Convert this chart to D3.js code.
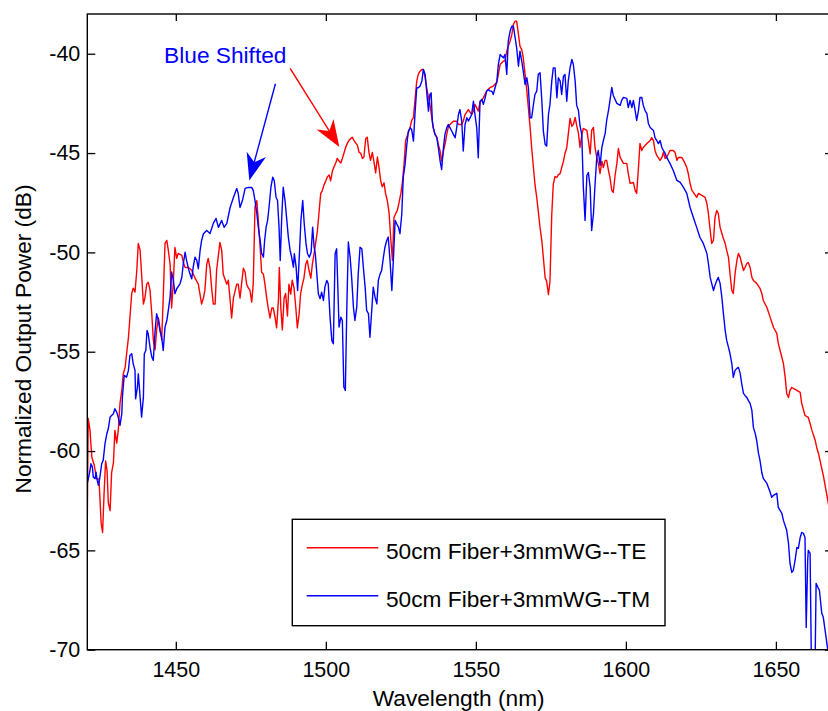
<!DOCTYPE html>
<html>
<head>
<meta charset="utf-8">
<script src="https://cdn.jsdelivr.net/npm/d3@7"></script>
<style>
  body { margin: 0; background: #fff; }
  svg { display: block; font-family: "Liberation Sans", Arial, sans-serif; }
</style>
</head>
<body>
<div id="chart"></div>
<script>
// wavelength (nm), normalized output power (dB)
const teSpectrum = [
  [1420.5,-63.5],[1420.8,-58.36],[1421.4,-58.96],[1422.0,-60.3],[1422.8,-60.7],[1423.6,-61.4],[1424.4,-61.4],
  [1425.1,-63.6],[1425.6,-64.1],[1426.1,-62.1],[1426.6,-60.5],[1427.1,-61.0],[1427.5,-62.6],[1428.1,-63.0],
  [1428.6,-61.1],[1429.2,-60.6],[1429.7,-58.96],[1430.3,-59.6],[1430.8,-59.0],[1431.4,-57.6],[1432.0,-56.95],
  [1432.5,-56.1],[1433.1,-55.8],[1433.6,-55.1],[1434.2,-54.3],[1434.7,-53.3],[1435.3,-52.07],[1435.8,-51.8],
  [1436.4,-52.0],[1437.0,-50.9],[1437.5,-49.55],[1438.1,-49.9],[1438.6,-51.1],[1439.2,-52.6],[1439.7,-52.3],
  [1440.3,-51.6],[1440.8,-51.5],[1441.4,-51.9],[1442.0,-53.1],[1442.5,-54.4],[1443.1,-54.9],[1443.6,-53.9],
  [1444.2,-53.3],[1444.7,-53.8],[1445.3,-54.4],[1445.8,-52.3],[1446.4,-49.55],[1447.0,-49.4],[1447.5,-49.9],
  [1448.1,-50.6],[1448.6,-52.8],[1449.2,-51.4],[1449.7,-49.75],[1450.3,-50.3],[1450.8,-50.05],[1452.0,-50.15],
  [1452.5,-50.5],[1453.1,-50.76],[1454.2,-50.76],[1455.3,-50.9],[1456.4,-51.3],[1457.5,-51.6],[1458.6,-52.6],
  [1459.2,-52.3],[1459.7,-51.9],[1460.3,-50.6],[1460.8,-50.3],[1461.4,-50.8],[1462.0,-51.9],[1462.5,-52.6],
  [1463.1,-52.6],[1463.6,-50.9],[1464.7,-49.5],[1465.3,-49.9],[1465.8,-51.1],[1467.0,-51.6],[1467.5,-51.4],
  [1468.1,-52.4],[1468.6,-53.3],[1469.2,-52.3],[1470.3,-51.6],[1470.8,-51.6],[1471.4,-52.3],[1472.5,-50.8],
  [1473.1,-51.0],[1473.6,-51.6],[1474.2,-51.8],[1474.7,-51.9],[1475.3,-52.5],[1475.8,-51.6],[1476.4,-47.7],
  [1477.0,-47.4],[1477.5,-48.4],[1478.1,-49.75],[1478.6,-51.0],[1479.2,-51.1],[1479.7,-51.6],[1480.3,-52.3],
  [1480.8,-52.8],[1481.4,-53.3],[1482.0,-52.8],[1482.5,-52.8],[1483.1,-53.3],[1483.6,-53.8],[1484.2,-52.4],
  [1484.5,-50.76],[1485.0,-52.8],[1485.5,-53.9],[1486.1,-52.3],[1486.6,-52.07],[1487.2,-53.2],[1487.7,-51.6],
  [1488.3,-52.1],[1488.8,-51.4],[1489.4,-51.8],[1490.0,-52.8],[1490.5,-53.8],[1491.1,-53.1],[1491.6,-52.07],
  [1492.2,-51.6],[1492.7,-51.3],[1493.3,-50.6],[1493.8,-50.4],[1494.4,-50.9],[1495.0,-51.3],[1495.5,-50.6],
  [1496.1,-50.05],[1496.6,-49.55],[1497.2,-48.9],[1497.7,-48.04],[1498.3,-47.03],[1498.8,-46.9],[1499.4,-46.6],
  [1500.0,-46.4],[1500.5,-46.2],[1501.1,-46.1],[1501.6,-46.4],[1502.2,-45.9],[1502.7,-45.7],[1503.3,-45.5],
  [1503.8,-45.27],[1504.4,-45.4],[1505.0,-45.5],[1505.5,-45.27],[1506.1,-44.97],[1506.6,-44.72],[1507.2,-44.5],
  [1507.7,-44.37],[1508.3,-44.27],[1508.8,-44.2],[1509.4,-44.37],[1510.0,-44.5],[1510.5,-44.6],[1511.1,-44.97],
  [1511.6,-45.0],[1512.2,-45.27],[1512.7,-45.2],[1513.3,-44.27],[1513.8,-44.2],[1514.4,-45.0],[1514.9,-45.37],
  [1515.5,-44.97],[1516.1,-45.5],[1516.6,-46.0],[1517.2,-45.2],[1517.7,-45.7],[1518.3,-46.4],[1518.8,-46.7],
  [1519.4,-46.5],[1519.9,-47.03],[1520.5,-47.4],[1521.1,-48.04],[1521.6,-49.25],[1522.2,-50.4],[1522.7,-48.24],
  [1523.3,-48.04],[1523.8,-47.9],[1524.4,-47.5],[1525.0,-47.03],[1525.5,-46.5],[1526.1,-45.5],[1526.6,-44.37],
  [1528.1,-43.71],[1528.6,-43.36],[1529.2,-43.21],[1529.7,-42.35],[1530.3,-41.38],[1530.8,-41.04],[1531.4,-40.88],
  [1532.0,-40.79],[1532.5,-40.79],[1533.1,-41.2],[1533.6,-41.7],[1534.2,-42.2],[1534.7,-42.55],[1535.3,-43.21],
  [1535.8,-43.71],[1536.4,-44.06],[1537.0,-44.2],[1537.5,-44.57],[1538.1,-44.9],[1538.6,-45.41],[1539.2,-44.9],
  [1539.7,-44.57],[1540.3,-44.06],[1540.8,-43.71],[1541.4,-43.56],[1542.5,-43.4],[1543.6,-43.4],[1544.2,-43.56],
  [1545.3,-43.56],[1545.8,-43.4],[1546.4,-43.06],[1547.5,-42.81],[1548.6,-43.06],[1549.2,-42.89],[1549.7,-42.55],
  [1550.8,-42.89],[1551.4,-42.45],[1552.5,-42.22],[1553.6,-41.88],[1554.7,-41.71],[1555.8,-41.63],[1557.0,-41.45],
  [1557.5,-41.04],[1558.1,-40.54],[1559.2,-40.37],[1559.7,-40.37],[1560.3,-39.87],[1560.8,-39.62],[1561.4,-39.37],
  [1562.0,-39.03],[1562.5,-38.53],[1563.1,-38.36],[1563.6,-38.36],[1564.2,-39.03],[1564.7,-39.62],[1565.3,-39.79],
  [1565.8,-40.2],[1566.4,-41.04],[1567.0,-41.88],[1567.5,-42.72],[1568.1,-43.73],[1568.6,-44.73],[1569.2,-45.74],
  [1569.7,-46.58],[1570.3,-47.25],[1570.8,-47.92],[1571.4,-48.76],[1572.0,-49.43],[1572.5,-50.27],[1573.1,-51.28],
  [1573.6,-51.46],[1574.2,-52.12],[1574.7,-51.46],[1575.3,-48.09],[1575.8,-46.58],[1576.4,-46.18],[1577.0,-46.23],
  [1577.5,-46.08],[1578.1,-46.03],[1578.6,-45.73],[1579.2,-45.41],[1579.7,-45.02],[1580.3,-44.73],[1580.8,-44.06],
  [1581.4,-43.26],[1582.0,-43.66],[1582.5,-43.56],[1583.1,-43.21],[1583.6,-43.61],[1584.2,-44.01],[1584.7,-44.72],
  [1585.3,-44.11],[1585.8,-43.76],[1587.0,-43.86],[1587.5,-44.37],[1588.1,-45.04],[1588.6,-43.86],[1589.2,-43.71],
  [1589.7,-44.72],[1590.3,-45.22],[1590.8,-45.52],[1591.4,-46.03],[1592.0,-45.41],[1592.5,-45.73],[1593.1,-45.37],
  [1593.6,-45.37],[1594.2,-45.88],[1594.7,-46.23],[1595.3,-46.88],[1595.8,-46.98],[1596.4,-46.13],[1597.0,-45.52],
  [1597.5,-44.77],[1598.1,-45.22],[1599.2,-45.52],[1600.3,-45.52],[1600.8,-46.03],[1601.4,-46.53],[1602.5,-46.48],
  [1603.1,-46.88],[1603.6,-47.03],[1604.2,-45.73],[1604.7,-44.52],[1605.3,-44.87],[1605.8,-44.72],[1607.0,-44.52],
  [1608.1,-44.37],[1608.6,-44.22],[1609.2,-44.37],[1609.7,-44.87],[1610.3,-45.12],[1611.4,-45.37],[1612.0,-45.22],
  [1612.5,-44.97],[1613.1,-45.27],[1613.6,-45.22],[1614.7,-44.87],[1615.8,-44.87],[1616.4,-44.97],[1617.0,-45.37],
  [1617.5,-45.22],[1618.6,-45.22],[1619.2,-45.37],[1619.7,-45.52],[1620.3,-45.73],[1620.8,-46.03],[1621.4,-46.53],
  [1622.0,-46.88],[1622.5,-46.98],[1623.6,-47.23],[1624.2,-47.03],[1625.3,-47.13],[1626.4,-47.23],[1627.0,-47.54],
  [1627.5,-48.04],[1628.1,-48.9],[1628.6,-49.55],[1629.2,-49.4],[1629.7,-48.24],[1630.3,-47.89],[1630.8,-48.04],
  [1631.4,-48.74],[1632.0,-49.05],[1632.5,-49.3],[1633.1,-49.55],[1633.6,-49.9],[1634.2,-50.25],[1634.7,-51.06],
  [1635.3,-51.92],[1635.8,-52.07],[1636.4,-51.06],[1637.0,-50.41],[1637.5,-50.05],[1638.1,-50.25],[1638.6,-50.56],
  [1639.2,-50.91],[1639.7,-50.76],[1640.3,-50.56],[1640.8,-50.51],[1641.4,-50.76],[1642.0,-51.26],[1642.5,-51.41],
  [1643.6,-51.56],[1644.7,-51.81],[1645.3,-52.07],[1645.8,-52.42],[1647.0,-52.77],[1648.1,-53.27],[1649.2,-53.78],
  [1650.3,-54.08],[1650.8,-54.58],[1651.4,-54.94],[1652.0,-55.29],[1652.5,-55.59],[1653.1,-56.29],[1653.6,-57.1],
  [1654.2,-57.3],[1654.7,-56.95],[1655.3,-56.8],[1655.8,-56.85],[1657.0,-56.95],[1658.1,-57.05],[1658.6,-57.6],
  [1659.7,-58.21],[1660.8,-58.31],[1661.4,-58.61],[1662.0,-58.96],[1663.1,-59.46],[1663.6,-59.82],[1664.2,-60.12],
  [1664.7,-60.47],[1665.8,-61.23],[1667.0,-62.23],[1667.6,-62.74],[1668.1,-63.0]
]

const tmSpectrum = [
  [1420.6,-61.56],[1421.4,-60.98],[1421.7,-60.64],[1422.2,-60.81],[1422.5,-61.31],[1423.1,-61.39],[1423.4,-61.06],
  [1423.8,-61.48],[1424.2,-61.73],[1424.7,-61.31],[1425.3,-60.64],[1425.8,-60.47],[1426.4,-59.63],[1427.0,-59.13],
  [1427.5,-58.88],[1428.1,-58.29],[1428.6,-58.21],[1429.2,-58.12],[1429.7,-57.87],[1430.3,-58.04],[1430.8,-58.29],
  [1431.4,-58.71],[1432.0,-58.12],[1432.2,-57.29],[1432.8,-56.19],[1433.6,-56.28],[1434.2,-55.94],[1434.7,-55.19],
  [1435.3,-55.1],[1435.8,-55.61],[1436.4,-55.94],[1436.6,-57.37],[1437.2,-56.78],[1437.5,-56.11],[1438.1,-57.29],
  [1438.6,-58.29],[1439.2,-57.29],[1439.5,-55.1],[1440.0,-54.94],[1440.4,-53.93],[1440.8,-54.1],[1441.4,-54.77],
  [1442.0,-55.27],[1442.5,-55.44],[1443.1,-53.93],[1443.6,-53.09],[1444.2,-53.43],[1444.7,-53.93],[1445.3,-54.27],
  [1445.8,-54.94],[1446.4,-53.76],[1447.0,-53.43],[1447.5,-52.92],[1448.1,-52.25],[1448.6,-50.99],[1449.2,-51.41],
  [1449.7,-52.08],[1450.3,-51.83],[1451.4,-51.58],[1452.0,-51.25],[1452.5,-50.57],[1453.1,-49.99],[1453.6,-50.41],
  [1454.2,-50.82],[1454.7,-51.08],[1455.3,-51.33],[1455.8,-50.74],[1456.4,-50.24],[1457.0,-50.41],[1457.5,-50.82],
  [1458.1,-49.9],[1458.6,-49.4],[1459.2,-49.06],[1460.3,-48.9],[1461.4,-49.05],[1462.5,-48.54],[1463.4,-48.29],
  [1464.2,-48.74],[1465.3,-48.39],[1466.1,-48.74],[1467.0,-48.54],[1468.1,-47.74],[1469.2,-47.24],[1470.3,-46.78],
  [1470.8,-47.03],[1471.4,-47.74],[1472.2,-47.39],[1473.1,-46.78],[1474.2,-46.73],[1475.3,-46.73],[1475.8,-46.88],
  [1476.4,-47.39],[1477.0,-48.04],[1477.5,-48.74],[1478.1,-49.4],[1478.6,-50.05],[1479.2,-50.24],[1479.6,-49.4],
  [1480.1,-48.73],[1480.6,-48.39],[1481.2,-47.54],[1481.7,-46.72],[1482.3,-46.21],[1482.8,-46.38],[1483.4,-47.22],
  [1483.9,-47.39],[1484.4,-48.73],[1484.8,-50.41],[1485.3,-48.23],[1485.8,-46.72],[1486.4,-47.39],[1487.0,-48.39],
  [1487.5,-49.23],[1488.1,-49.9],[1488.6,-50.24],[1489.2,-50.74],[1489.5,-50.07],[1490.1,-50.74],[1490.6,-51.92],
  [1491.2,-50.07],[1491.7,-48.39],[1492.3,-47.39],[1492.8,-48.56],[1493.4,-49.57],[1493.9,-50.07],[1494.5,-50.24],
  [1495.1,-49.99],[1495.6,-48.73],[1496.1,-49.74],[1496.5,-50.07],[1497.0,-51.08],[1497.5,-52.08],[1498.1,-52.33],
  [1498.6,-52.0],[1499.2,-52.42],[1499.7,-51.75],[1500.3,-51.41],[1500.8,-51.58],[1501.4,-53.26],[1502.0,-54.43],
  [1502.5,-54.6],[1503.1,-50.07],[1503.6,-49.82],[1504.0,-51.75],[1504.4,-53.76],[1505.0,-53.26],[1505.5,-53.43],
  [1506.0,-56.78],[1506.5,-56.95],[1507.0,-52.76],[1507.5,-49.48],[1508.1,-50.24],[1508.6,-51.25],[1509.2,-52.76],
  [1509.7,-53.43],[1510.3,-52.76],[1510.8,-51.08],[1511.4,-49.74],[1512.0,-49.82],[1512.5,-50.74],[1513.1,-51.75],
  [1513.6,-52.92],[1514.2,-53.09],[1514.7,-54.27],[1515.3,-52.92],[1515.8,-51.75],[1516.4,-52.25],[1517.0,-52.59],
  [1517.5,-51.41],[1518.1,-51.08],[1518.6,-50.91],[1519.2,-50.24],[1519.7,-49.74],[1520.3,-49.4],[1520.8,-49.23],
  [1521.4,-50.41],[1522.0,-51.92],[1522.5,-50.41],[1523.1,-48.39],[1523.6,-48.56],[1524.2,-48.73],[1524.7,-49.06],
  [1525.3,-48.09],[1525.8,-46.24],[1526.4,-45.57],[1527.0,-44.57],[1527.5,-43.9],[1528.1,-43.73],[1528.6,-43.81],
  [1529.2,-44.4],[1529.7,-43.06],[1530.3,-41.71],[1530.8,-41.71],[1531.4,-41.63],[1532.0,-41.38],[1532.5,-40.79],
  [1533.1,-41.04],[1533.6,-41.88],[1534.2,-42.89],[1534.7,-42.05],[1535.1,-41.97],[1535.5,-43.39],[1535.8,-43.73],
  [1536.4,-44.06],[1537.0,-44.23],[1537.5,-44.73],[1538.1,-45.41],[1538.6,-45.83],[1539.2,-44.73],[1539.7,-44.06],
  [1540.3,-43.73],[1540.8,-43.56],[1541.4,-43.73],[1542.0,-43.9],[1542.5,-44.06],[1543.1,-44.23],[1543.6,-43.73],
  [1544.2,-43.06],[1544.7,-42.81],[1545.3,-43.39],[1545.8,-44.9],[1546.4,-43.56],[1547.0,-43.22],[1547.5,-43.39],
  [1548.1,-43.22],[1548.6,-43.06],[1549.2,-42.39],[1549.7,-43.06],[1550.3,-43.73],[1550.8,-45.24],[1551.4,-42.39],
  [1552.0,-42.3],[1552.5,-42.55],[1553.1,-42.22],[1553.6,-41.88],[1554.2,-41.8],[1554.7,-41.88],[1555.3,-41.88],
  [1555.8,-42.05],[1556.4,-41.71],[1557.0,-41.38],[1557.5,-40.54],[1558.1,-40.04],[1558.6,-40.12],[1559.2,-40.2],
  [1559.7,-40.04],[1560.3,-41.04],[1560.8,-39.37],[1561.4,-38.87],[1562.0,-38.61],[1562.5,-38.61],[1563.1,-39.2],
  [1563.6,-39.7],[1564.2,-40.63],[1564.7,-39.87],[1565.3,-40.37],[1565.8,-40.88],[1566.4,-41.55],[1567.0,-41.21],
  [1567.5,-41.71],[1568.1,-43.22],[1568.6,-43.22],[1569.2,-42.55],[1569.7,-42.05],[1570.3,-41.88],[1570.8,-41.04],
  [1571.4,-40.96],[1572.0,-42.39],[1572.5,-43.9],[1573.1,-44.57],[1573.6,-44.65],[1574.2,-43.06],[1574.7,-42.55],
  [1575.3,-41.38],[1575.8,-40.71],[1576.4,-40.71],[1577.0,-42.22],[1577.5,-41.21],[1578.1,-41.38],[1578.6,-42.05],
  [1579.2,-41.13],[1579.7,-41.04],[1580.3,-42.39],[1580.8,-41.38],[1581.4,-40.71],[1582.0,-40.29],[1582.5,-40.54],
  [1583.1,-41.38],[1583.6,-42.6],[1584.2,-42.86],[1584.7,-43.61],[1585.3,-44.06],[1585.8,-46.63],[1586.4,-48.39],
  [1587.0,-46.13],[1587.5,-45.98],[1588.1,-46.73],[1588.6,-48.9],[1589.2,-48.04],[1589.7,-46.63],[1590.3,-45.22],
  [1590.8,-44.87],[1591.4,-45.62],[1592.0,-44.72],[1592.5,-44.37],[1593.1,-44.01],[1593.6,-43.36],[1594.2,-42.86],
  [1594.7,-42.35],[1595.3,-41.7],[1595.8,-42.1],[1597.0,-42.5],[1598.1,-42.6],[1598.6,-42.35],[1599.2,-42.2],
  [1600.3,-42.25],[1600.8,-42.71],[1601.4,-42.35],[1602.0,-42.71],[1602.5,-42.35],[1603.1,-42.86],[1603.6,-43.36],
  [1604.2,-42.86],[1604.7,-42.2],[1605.3,-42.2],[1605.8,-42.6],[1606.4,-42.86],[1607.0,-43.01],[1607.5,-43.51],
  [1608.1,-43.71],[1609.2,-43.86],[1609.7,-44.22],[1610.3,-44.37],[1610.8,-44.52],[1611.4,-44.37],[1612.0,-44.72],
  [1612.5,-44.87],[1613.1,-45.02],[1613.6,-45.22],[1614.7,-45.52],[1615.8,-45.88],[1617.0,-46.38],[1618.1,-46.48],
  [1619.2,-46.73],[1620.3,-47.03],[1621.4,-47.74],[1622.5,-48.24],[1623.6,-48.74],[1624.7,-49.25],[1625.8,-49.55],
  [1627.0,-50.05],[1627.5,-50.56],[1628.1,-51.26],[1628.6,-51.56],[1629.2,-51.92],[1629.7,-51.66],[1630.3,-51.41],
  [1630.8,-51.26],[1631.4,-51.56],[1632.0,-52.27],[1632.5,-53.07],[1633.1,-53.93],[1633.6,-54.43],[1634.2,-54.78],
  [1634.7,-55.09],[1635.3,-55.59],[1635.8,-56.29],[1636.4,-55.94],[1637.0,-55.84],[1637.5,-55.79],[1638.1,-56.09],
  [1638.6,-56.6],[1639.2,-57.1],[1639.7,-57.2],[1640.3,-57.3],[1640.8,-57.45],[1641.4,-57.6],[1642.0,-57.96],
  [1642.5,-58.81],[1643.1,-59.11],[1643.6,-59.47],[1644.2,-60.12],[1644.7,-60.47],[1645.3,-61.08],[1645.8,-61.38],
  [1647.0,-61.63],[1648.1,-62.08],[1648.6,-62.33],[1649.2,-62.23],[1650.3,-62.13],[1650.8,-62.84],[1652.0,-63.14],
  [1652.5,-63.49],[1653.6,-63.99],[1654.2,-64.65],[1654.7,-65.66],[1655.3,-66.11],[1655.8,-66.01],[1656.4,-65.5],
  [1657.0,-64.85],[1657.5,-64.9],[1658.1,-64.35],[1658.6,-64.1],[1659.2,-64.15],[1659.7,-64.35],[1660.1,-68.88],
  [1660.6,-65.5],[1660.8,-65.0],[1661.4,-65.15],[1661.8,-70.3],[1663.1,-70.3],[1663.4,-66.66],[1664.0,-66.86],
  [1664.5,-67.01],[1665.3,-68.17],[1665.8,-68.37],[1666.4,-69.03],[1667.0,-69.68],[1667.4,-70.13]
]

const seriesNames = ["50cm Fiber+3mmWG--TE", "50cm Fiber+3mmWG--TM"]
const seriesColors = ["#ff0000", "#0000ff"]
const xTicks = [1450, 1500, 1550, 1600, 1650]
const yTicks = [-70, -65, -60, -55, -50, -45, -40]
const xDomain = [1420.5, 1668.7]
const yDomain = [-70, -38]

// annotation: label anchor, and arrows [from, to] in data units
const annotLabel = { text: "Blue Shifted", wl: 1446.1, db: -40.49 }
const annotArrows = [
  { from: [1483.2, -41.51], to: [1474.5, -46.38], color: "#0000ff" },
  { from: [1488.1, -40.74], to: [1504.5, -44.7], color: "#ff0000" },
]

const w = 828
const h = 711
const plotL = 87.3, plotR = 832, plotT = 14, plotB = 649.7

const svg = d3.select("#chart").append("svg")
	.attr("width", w)
	.attr("height", h)

svg.append("rect").attr("width", w).attr("height", h).attr("fill", "#fff")

const x = d3.scaleLinear().domain(xDomain).range([plotL, plotR])
const y = d3.scaleLinear().domain(yDomain).range([plotB, plotT])

svg.append("clipPath").attr("id", "plotClip")
	.append("rect")
	.attr("x", plotL).attr("y", plotT)
	.attr("width", plotR - plotL).attr("height", plotB - plotT)

const line = d3.line().x(d => x(d[0])).y(d => y(d[1]))

const plot = svg.append("g").attr("clip-path", "url(#plotClip)")

plot.append("path")
	.datum(teSpectrum)
	.attr("d", line)
	.attr("fill", "none")
	.attr("stroke", seriesColors[0])
	.attr("stroke-width", 1.4)
	.attr("stroke-linejoin", "round")

plot.append("path")
	.datum(tmSpectrum)
	.attr("d", line)
	.attr("fill", "none")
	.attr("stroke", seriesColors[1])
	.attr("stroke-width", 1.4)
	.attr("stroke-linejoin", "round")

// axes, ticks pointing inward; plain hyphen minus like the original
const tickFont = 21.5
const labelFont = 22.7
const plainNum = d => String(d)

const xAxis = svg.append("g")
	.attr("transform", `translate(0,${plotB})`)
	.call(d3.axisBottom(x).tickValues(xTicks).tickSizeInner(-8).tickSizeOuter(0).tickPadding(12).tickFormat(plainNum))
const yAxis = svg.append("g")
	.attr("transform", `translate(${plotL},0)`)
	.call(d3.axisLeft(y).tickValues(yTicks).tickSizeInner(-8).tickSizeOuter(0).tickPadding(7).tickFormat(plainNum))
const xTop = svg.append("g")
	.attr("transform", `translate(0,${plotT})`)
	.call(d3.axisTop(x).tickValues(xTicks).tickSizeInner(-7).tickSizeOuter(0).tickFormat(""))
const yRight = svg.append("g")
	.attr("transform", `translate(${plotR},0)`)
	.call(d3.axisRight(y).tickValues(yTicks).tickSizeInner(-7).tickSizeOuter(0).tickFormat(""))

;[xAxis, yAxis, xTop, yRight].forEach(g => {
	g.select(".domain").remove()
	g.selectAll(".tick line").attr("stroke", "#000").attr("stroke-width", 1.3)
	g.selectAll(".tick text")
		.attr("fill", "#000")
		.style("font-size", tickFont + "px")
		.style("font-family", '"Liberation Sans", Arial, sans-serif')
})

svg.append("rect")
	.attr("x", plotL).attr("y", plotT)
	.attr("width", plotR - plotL).attr("height", plotB - plotT)
	.attr("fill", "none")
	.attr("stroke", "#000")
	.attr("stroke-width", 1.4)

svg.append("text")
	.attr("x", (plotL + 830) / 2)
	.attr("y", 706)
	.attr("text-anchor", "middle")
	.style("font-size", labelFont + "px")
	.text("Wavelength (nm)")

svg.append("text")
	.attr("transform", "translate(31,339) rotate(-90)")
	.attr("text-anchor", "middle")
	.style("font-size", labelFont + "px")
	.text("Normalized Output Power (dB)")

// annotation
svg.append("text")
	.attr("x", x(annotLabel.wl))
	.attr("y", y(annotLabel.db))
	.attr("fill", "#0000ff")
	.style("font-size", labelFont + "px")
	.text(annotLabel.text)

annotArrows.forEach(a => {
	const x1 = x(a.from[0]), y1 = y(a.from[1])
	const x2 = x(a.to[0]), y2 = y(a.to[1])
	const len = Math.hypot(x2 - x1, y2 - y1)
	const ux = (x2 - x1) / len, uy = (y2 - y1) / len
	const headLen = 27, headW = 10, notch = 8
	const bx = x2 - ux * headLen, by = y2 - uy * headLen
	const nx = x2 - ux * (headLen - notch), ny = y2 - uy * (headLen - notch)
	svg.append("line")
		.attr("x1", x1).attr("y1", y1)
		.attr("x2", nx).attr("y2", ny)
		.attr("stroke", a.color)
		.attr("stroke-width", 1.4)
	svg.append("path")
		.attr("d", `M${x2},${y2}L${bx - uy * headW},${by + ux * headW}L${nx},${ny}L${bx + uy * headW},${by - ux * headW}Z`)
		.attr("fill", a.color)
})

// legend
const legend = svg.append("g").attr("transform", "translate(292.3,519.3)")
legend.append("rect")
	.attr("width", 372.7).attr("height", 106.4)
	.attr("fill", "#fff")
	.attr("stroke", "#000")
	.attr("stroke-width", 1.4)

seriesNames.forEach((name, i) => {
	const ly = 28.4 + i * 48
	legend.append("line")
		.attr("x1", 14.4).attr("x2", 86)
		.attr("y1", ly).attr("y2", ly)
		.attr("stroke", seriesColors[i])
		.attr("stroke-width", 1.4)
	legend.append("text")
		.attr("x", 93.7)
		.attr("y", ly + 11.3)
		.style("font-size", labelFont + "px")
		.text(name)
})
</script>
</body>
</html>
